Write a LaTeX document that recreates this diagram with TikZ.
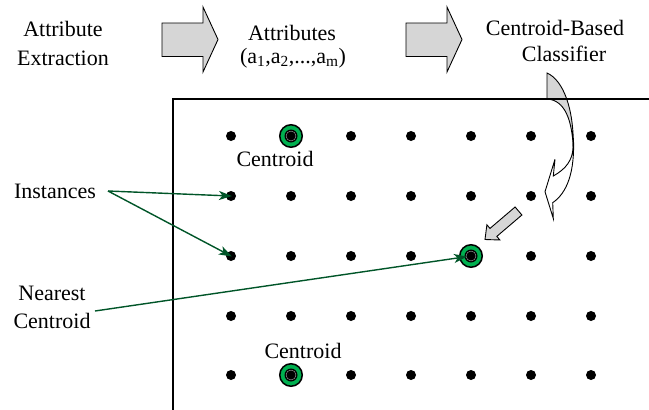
\documentclass[tikz,border=0pt]{standalone}
\usepackage{fontspec}
\setmainfont{Liberation Serif}
\usetikzlibrary{arrows.meta}
\definecolor{cgreen}{RGB}{0,176,80}
\definecolor{pointer}{RGB}{0,85,40}
\definecolor{blockgray}{gray}{0.84}
\begin{document}
\begin{tikzpicture}[x=1pt,y=-1pt,
  lbl/.style={font=\fontsize{22}{28}\selectfont, inner sep=0pt, anchor=base},
  dot/.style={circle, fill=black, minimum size=10pt, inner sep=0pt},
  centroid/.style={circle, fill=cgreen, draw=black, line width=1.5pt, minimum size=22.5pt, inner sep=0pt},
  pointer/.style={draw=pointer, line width=1.4pt, -{Stealth[length=13pt,width=9pt,inset=3.5pt]}},
  block/.style={draw=black, fill=blockgray, line width=0.9pt, line join=miter},
  frame/.style={draw=black, line width=1.1pt}]
\useasboundingbox (0,0) rectangle (649,410);

% pipeline labels
\node[lbl] (ae1) at (63,36) {Attribute};
\node[lbl] (ae2) at (63,65.5) {Extraction};
\node[lbl] (at1) at (292,40.5) {Attributes};
\node[lbl] (at2) at (293,63) {(a\textsubscript{1},a\textsubscript{2},...,a\textsubscript{m})};
\node[lbl] (cb1) at (555,35) {Centroid-Based};
\node[lbl] (cb2) at (564,61) {Classifier};

% block arrows between the stages
\foreach \dx in {0,244}{
  \draw[block] (162+\dx,23) -- (203+\dx,23) -- (203+\dx,7) -- (218+\dx,39.5)
    -- (203+\dx,72) -- (203+\dx,56.5) -- (162+\dx,56.5) -- cycle;
}

% curved arrow from the classifier into the instance space
\draw[block] (547,73) .. controls (563,80) and (574,108) .. (573.3,148)
  .. controls (572,120) and (565,100) .. (547,99) -- cycle;
\draw[draw=black, fill=white, line width=0.9pt, line join=miter]
  (573.4,138) .. controls (575,172) and (567,193) .. (552.7,202.7)
  -- (553.3,218.5) -- (545,191.7) -- (555,159.3) -- (553.3,176)
  .. controls (566,169) and (572.5,160) .. (573,148) -- cycle;

% instance space
\draw[frame] (173,410) -- (173,99) -- (649,99);

% instances on a grid
\foreach \r/\y in {1/136,2/196,3/256,4/316,5/375}{
  \foreach \c in {1,...,7}{
    \pgfmathtruncatemacro{\skip}{(\r==1 && \c==2) || (\r==3 && \c==5) || (\r==5 && \c==2)}
    \ifnum\skip=0
      \node[dot] (d\r\c) at ({231+60*(\c-1)},\y) {};
    \fi
  }
}

% centroids
\foreach \n/\x/\y in {c1/291/136, c2/471/256, c3/291/375}{
  \node[centroid] (\n) at (\x,\y) {};
  \fill[black] (\n.center) circle (6.5);
  \draw[gray!60, line width=0.5pt] (\n.center) circle (4.9);
  \fill[black] (\n.center) circle (4.4);
}
\node[lbl] (cl1) at (275,166.5) {Centroid};
\node[lbl] (cl3) at (303,358) {Centroid};

% small block arrow towards the nearest centroid
\draw[block] (521.9,215.0) -- (496.8,236.4) -- (499.9,240.0) -- (485,239.5)
  -- (486.9,224.8) -- (490.0,228.4) -- (515.1,207.0) -- cycle;

% callouts
\node[lbl] (inst) at (55,198) {Instances};
\node[lbl] (nc1) at (52,300) {Nearest};
\node[lbl] (nc2) at (52,328) {Centroid};
\coordinate (instsrc) at (108,191);
\coordinate (ncsrc) at (95,311);
\draw[pointer, shorten >=-1pt] (instsrc) -- (d21.center);
\draw[pointer, shorten >=-1pt] (instsrc) -- (d31.center);
\draw[pointer, shorten >=4pt] (ncsrc) -- (c2.center);
\end{tikzpicture}
\end{document}
